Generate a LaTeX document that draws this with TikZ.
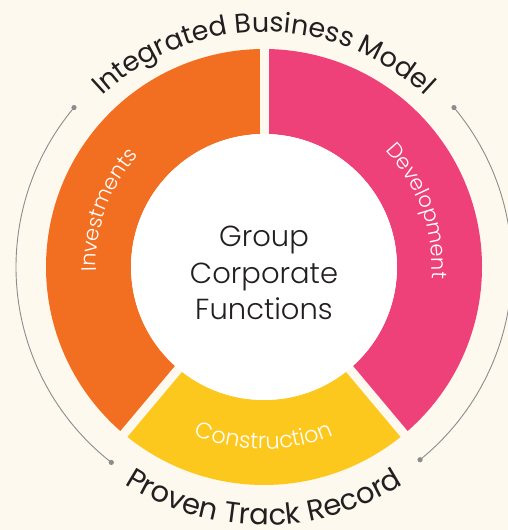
\documentclass[tikz,border=0pt]{standalone}
\usepackage{fontspec}
\setmainfont{Poppins}
\IfFontExistsTF{Poppins Light}{\newfontfamily\lightfont{Poppins Light}}{\newfontfamily\lightfont{Poppins}}
\usetikzlibrary{decorations.text}
\definecolor{bg}{HTML}{FDF9EF}
\definecolor{invorange}{HTML}{F26F21}
\definecolor{devpink}{HTML}{EE4079}
\definecolor{conyellow}{HTML}{FCC81D}
\definecolor{ink}{HTML}{231F20}
\definecolor{greyline}{HTML}{8C8C8C}
\tikzset{
  gapline/.style={bg, line width=9pt},
  sidearc/.style={greyline, line width=0.9pt},
  enddot/.style={fill=greyline},
  outertext/.style 2 args={decorate, decoration={text along path, text align=center, text color=ink, text={|\fontsize{#1}{#1}\selectfont|#2}}},
  ringtext/.style 2 args={decorate, decoration={text along path, text align=center, text color=white, text={|\lightfont\fontsize{#1}{#1}\selectfont|#2}}}
}
\begin{document}
\begin{tikzpicture}
\useasboundingbox (0,0) rectangle (508pt,530pt);
\fill[bg] (0,0) rectangle (508pt,530pt);
\coordinate (c) at (264pt,263pt);
\begin{scope}[shift={(c)}]
  % ring segments
  \fill[invorange] (90:218pt) arc[start angle=90,end angle=230,radius=218pt] -- (230:133pt) arc[start angle=230,end angle=90,radius=133pt] -- cycle;
  \fill[devpink] (-50:218pt) arc[start angle=-50,end angle=90,radius=218pt] -- (90:133pt) arc[start angle=90,end angle=-50,radius=133pt] -- cycle;
  \fill[conyellow] (230:218pt) arc[start angle=230,end angle=310,radius=218pt] -- (310:133pt) arc[start angle=310,end angle=230,radius=133pt] -- cycle;
  % gaps
  \draw[gapline] (0,0) -- (90:225pt);
  \draw[gapline] (0,0) -- (230:225pt);
  \draw[gapline] (0,0) -- (310:225pt);
  % centre disc
  \fill[white] (0,0) circle (133pt);
  % side arcs
  \draw[sidearc] (140:248pt) arc[start angle=140,end angle=232,radius=248pt];
  \fill[enddot] (140:248pt) circle (2.6pt);
  \fill[enddot] (232:248pt) circle (2.6pt);
  \draw[sidearc] (40:248pt) arc[start angle=40,end angle=-51,radius=248pt];
  \fill[enddot] (40:248pt) circle (2.6pt);
  \fill[enddot] (-51:248pt) circle (2.6pt);
  % outer texts
  \path[outertext={27}{Integrated Business Model}] (160:235pt) arc[start angle=160,end angle=20,radius=235pt];
  \path[outertext={29}{Proven Track Record}] (215:258pt) arc[start angle=215,end angle=325,radius=258pt];
  % ring labels
  \path[ringtext={21}{Investments}] (200:168pt) arc[start angle=200,end angle=120,radius=168pt];
  \path[ringtext={21}{Development}] (60:168pt) arc[start angle=60,end angle=-20,radius=168pt];
  \path[ringtext={22.5}{Construction}] (225:182pt) arc[start angle=225,end angle=315,radius=182pt];
\end{scope}
\node[align=center, text=ink, font=\lightfont\fontsize{29}{36.5}\selectfont] (centre) at (264pt,257pt) {Group\\Corporate\\Functions};
\end{tikzpicture}
\end{document}
